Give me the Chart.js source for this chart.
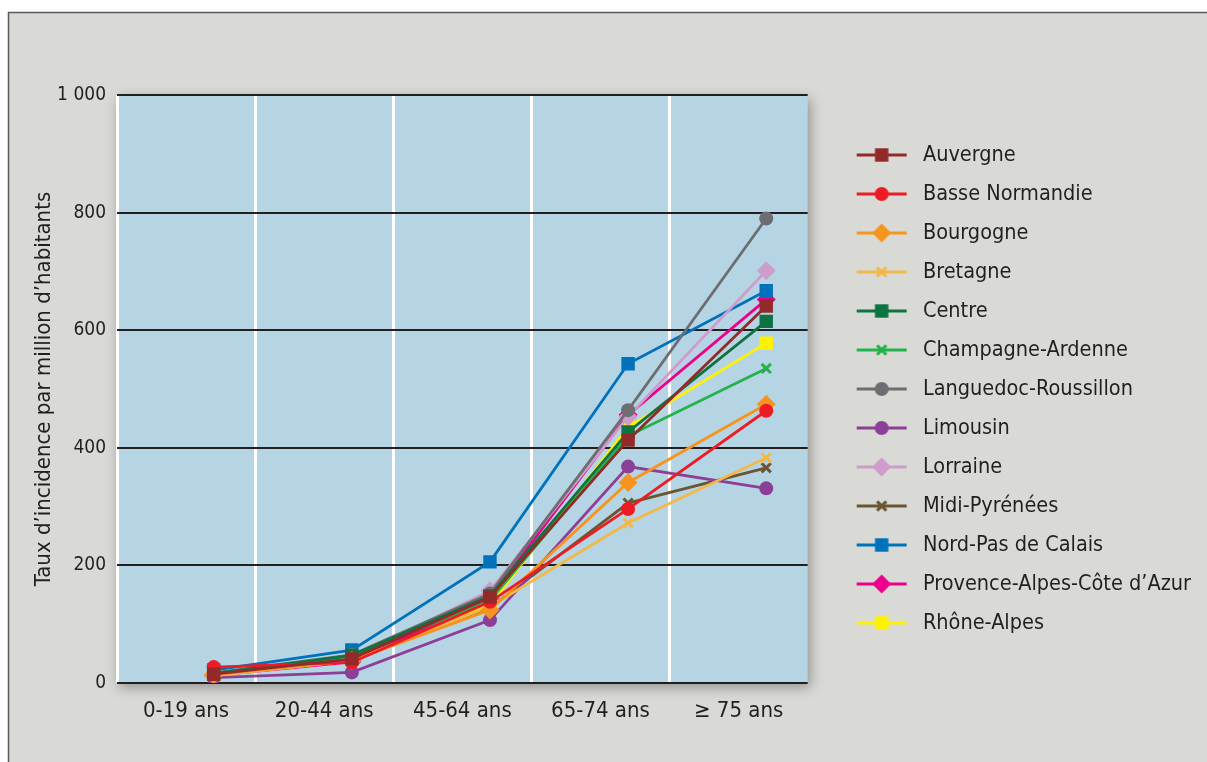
<!DOCTYPE html>
<html lang="fr">
<head>
<meta charset="utf-8">
<title>Taux d'incidence par classe d'âge</title>
<script src="https://cdn.jsdelivr.net/npm/chart.js@4/dist/chart.umd.min.js"></script>
<style>
  html, body { margin: 0; padding: 0; background: #fff; }
  #wrap { position: relative; width: 1207px; height: 762px; }
</style>
</head>
<body>
<div id="wrap"><canvas id="chart" width="1207" height="762"></canvas></div>
<script>
// Classes d'âge et taux d'incidence (par million d'habitants)
const ages = ['0-19 ans', '20-44 ans', '45-64 ans', '65-74 ans', '≥ 75 ans'];
const yTicks = [0, 200, 400, 600, 800, 1000];

const auvergne = [15, 41, 146, 413, 641];
const basseNormandie = [27, 35, 138, 296, 463];
const bourgogne = [14, 38, 124, 341, 474];
const bretagne = [12, 38, 130, 272, 383];
const centre = [16, 47, 148, 427, 615];
const champagne = [15, 46, 140, 420, 535];
const languedoc = [17, 48, 152, 464, 790];
const limousin = [9, 18, 107, 368, 331];
const lorraine = [12, 42, 157, 453, 701];
const midiPyrenees = [13, 40, 128, 306, 366];
const nordPasDeCalais = [22, 56, 206, 543, 667];
const provence = [13, 36, 145, 456, 652];
const rhoneAlpes = [14, 40, 133, 435, 578];

const TEXT = '#231f20';
const PLOT_BG = '#b6d5e4';
const FRAME_BG = '#d9dad5';
// les points sont décalés vers la droite dans chaque bande de l'axe
const POINT_OFFSET = 0.7;

const series = [
    { label: 'Auvergne', data: auvergne, color: '#922a2a', style: 'rect' },
    { label: 'Basse Normandie', data: basseNormandie, color: '#ed1c24', style: 'circle' },
    { label: 'Bourgogne', data: bourgogne, color: '#f7941d', style: 'rectRot' },
    { label: 'Bretagne', data: bretagne, color: '#f2b94a', style: 'crossRot' },
    { label: 'Centre', data: centre, color: '#0d7341', style: 'rect' },
    { label: 'Champagne-Ardenne', data: champagne, color: '#23b24b', style: 'crossRot' },
    { label: 'Languedoc-Roussillon', data: languedoc, color: '#6d6e71', style: 'circle' },
    { label: 'Limousin', data: limousin, color: '#8c3f97', style: 'circle' },
    { label: 'Lorraine', data: lorraine, color: '#cf9ccb', style: 'rectRot' },
    { label: 'Midi-Pyrénées', data: midiPyrenees, color: '#6b5634', style: 'crossRot' },
    { label: 'Nord-Pas de Calais', data: nordPasDeCalais, color: '#0072bc', style: 'rect' },
    { label: 'Provence-Alpes-Côte d’Azur', data: provence, color: '#ec008c', style: 'rectRot' },
    { label: 'Rhône-Alpes', data: rhoneAlpes, color: '#fff200', style: 'rect' },
];

const RADIUS = { rect: 9.5, circle: 7, rectRot: 9.5, crossRot: 6.5 };

function drawMarker(ctx, style, x, y, r, color) {
    ctx.fillStyle = color;
    ctx.strokeStyle = color;
    ctx.beginPath();
    if (style === 'rect') {
        const s = r * Math.SQRT1_2;
        ctx.rect(x - s, y - s, 2 * s, 2 * s);
        ctx.fill();
    } else if (style === 'circle') {
        ctx.arc(x, y, r, 0, Math.PI * 2);
        ctx.fill();
    } else if (style === 'rectRot') {
        ctx.moveTo(x - r, y);
        ctx.lineTo(x, y - r);
        ctx.lineTo(x + r, y);
        ctx.lineTo(x, y + r);
        ctx.closePath();
        ctx.fill();
    } else {
        const d = r * Math.SQRT1_2;
        ctx.lineWidth = 3;
        ctx.moveTo(x - d, y - d);
        ctx.lineTo(x + d, y + d);
        ctx.moveTo(x - d, y + d);
        ctx.lineTo(x + d, y - d);
        ctx.stroke();
    }
}

function legendIcon(s) {
    const c = document.createElement('canvas');
    c.width = 52;
    c.height = 22;
    const ctx = c.getContext('2d');
    ctx.strokeStyle = s.color;
    ctx.lineWidth = 3;
    ctx.beginPath();
    ctx.moveTo(1, 11);
    ctx.lineTo(51, 11);
    ctx.stroke();
    drawMarker(ctx, s.style, 26, 11, RADIUS[s.style], s.color);
    return c;
}

const icons = series.map(legendIcon);

const frameAndBackground = {
    id: 'frameAndBackground',
    beforeDraw(chart) {
        const { ctx, chartArea: a, width, height } = chart;
        ctx.save();
        ctx.fillStyle = '#fff';
        ctx.fillRect(0, 0, width, height);
        ctx.fillStyle = FRAME_BG;
        ctx.fillRect(8, 12, width - 8, height - 12);
        ctx.strokeStyle = '#58595b';
        ctx.lineWidth = 1.5;
        ctx.beginPath();
        ctx.moveTo(8.5, height);
        ctx.lineTo(8.5, 12.5);
        ctx.lineTo(width, 12.5);
        ctx.stroke();

        ctx.shadowColor = 'rgba(0, 0, 0, 0.35)';
        ctx.shadowBlur = 12;
        ctx.shadowOffsetX = 2;
        ctx.shadowOffsetY = 4;
        ctx.fillStyle = PLOT_BG;
        ctx.fillRect(a.left, a.top, a.right - a.left, a.bottom - a.top);
        ctx.restore();
    },
};

Chart.defaults.font.family = "'Liberation Sans Narrow', 'DejaVu Sans Condensed', 'Arial Narrow', sans-serif";
Chart.defaults.color = TEXT;

new Chart(document.getElementById('chart'), {
    type: 'line',
    data: {
        datasets: series.map((s) => ({
            label: s.label,
            data: s.data.map((v, i) => ({ x: i + POINT_OFFSET, y: v })),
            borderColor: s.color,
            backgroundColor: s.color,
            pointBackgroundColor: s.color,
            pointBorderColor: s.color,
            pointStyle: s.style,
            pointRadius: RADIUS[s.style],
            pointHoverRadius: RADIUS[s.style],
            pointBorderWidth: s.style === 'crossRot' ? 3 : 0,
            borderWidth: 2.8,
            tension: 0,
            fill: false,
        })),
    },
    options: {
        responsive: false,
        animation: false,
        events: [],
        layout: { padding: { top: 95, left: 0, right: 6, bottom: 0 } },
        plugins: {
            tooltip: { enabled: false },
            legend: {
                position: 'right',
                fullSize: false,
                maxWidth: 369,
                labels: {
                    usePointStyle: true,
                    pointStyleWidth: 61,
                    padding: 17.5,
                    color: TEXT,
                    font: { size: 21.5 },
                    generateLabels: (chart) => chart.data.datasets.map((ds, i) => ({
                        text: ds.label,
                        pointStyle: icons[i],
                        fontColor: TEXT,
                        fillStyle: 'transparent',
                        strokeStyle: 'transparent',
                        lineWidth: 0,
                        hidden: false,
                        datasetIndex: i,
                    })),
                },
            },
        },
        scales: {
            x: {
                type: 'linear',
                min: 0,
                max: ages.length,
                afterBuildTicks: (scale) => {
                    const t = [];
                    for (let i = 0; i <= ages.length; i++) {
                        t.push({ value: i });
                        if (i < ages.length) t.push({ value: i + 0.5 });
                    }
                    scale.ticks = t;
                },
                afterFit: (scale) => { scale.height = 79; },
                border: { display: false },
                grid: {
                    drawTicks: false,
                    lineWidth: 3,
                    color: (c) => (Number.isInteger(c.tick.value) && c.tick.value < ages.length ? '#ffffff' : 'rgba(0,0,0,0)'),
                },
                ticks: {
                    autoSkip: false,
                    maxRotation: 0,
                    padding: 15,
                    font: { size: 22 },
                    color: TEXT,
                    callback: (v) => (Number.isInteger(v) ? '' : ages[Math.floor(v)]),
                },
            },
            y: {
                min: 0,
                max: 1000,
                afterBuildTicks: (scale) => { scale.ticks = yTicks.map((v) => ({ value: v })); },
                afterFit: (scale) => { scale.width = 117; },
                border: { display: false },
                grid: { drawTicks: false, lineWidth: 2, color: TEXT },
                ticks: {
                    padding: 11,
                    font: { size: 19 },
                    color: TEXT,
                    callback: (v) => (v >= 1000 ? '1 000' : String(v)),
                },
                title: {
                    display: true,
                    text: 'Taux d’incidence par million d’habitants',
                    font: { size: 22 },
                    color: TEXT,
                    padding: { top: 31, bottom: 0 },
                },
            },
            gap: {
                type: 'linear',
                position: 'right',
                min: 0,
                max: 1,
                afterFit: (scale) => { scale.width = 26; },
                border: { display: false },
                grid: { display: false, drawTicks: false },
                ticks: { display: false },
            },
        },
    },
    plugins: [frameAndBackground],
});
</script>
</body>
</html>
